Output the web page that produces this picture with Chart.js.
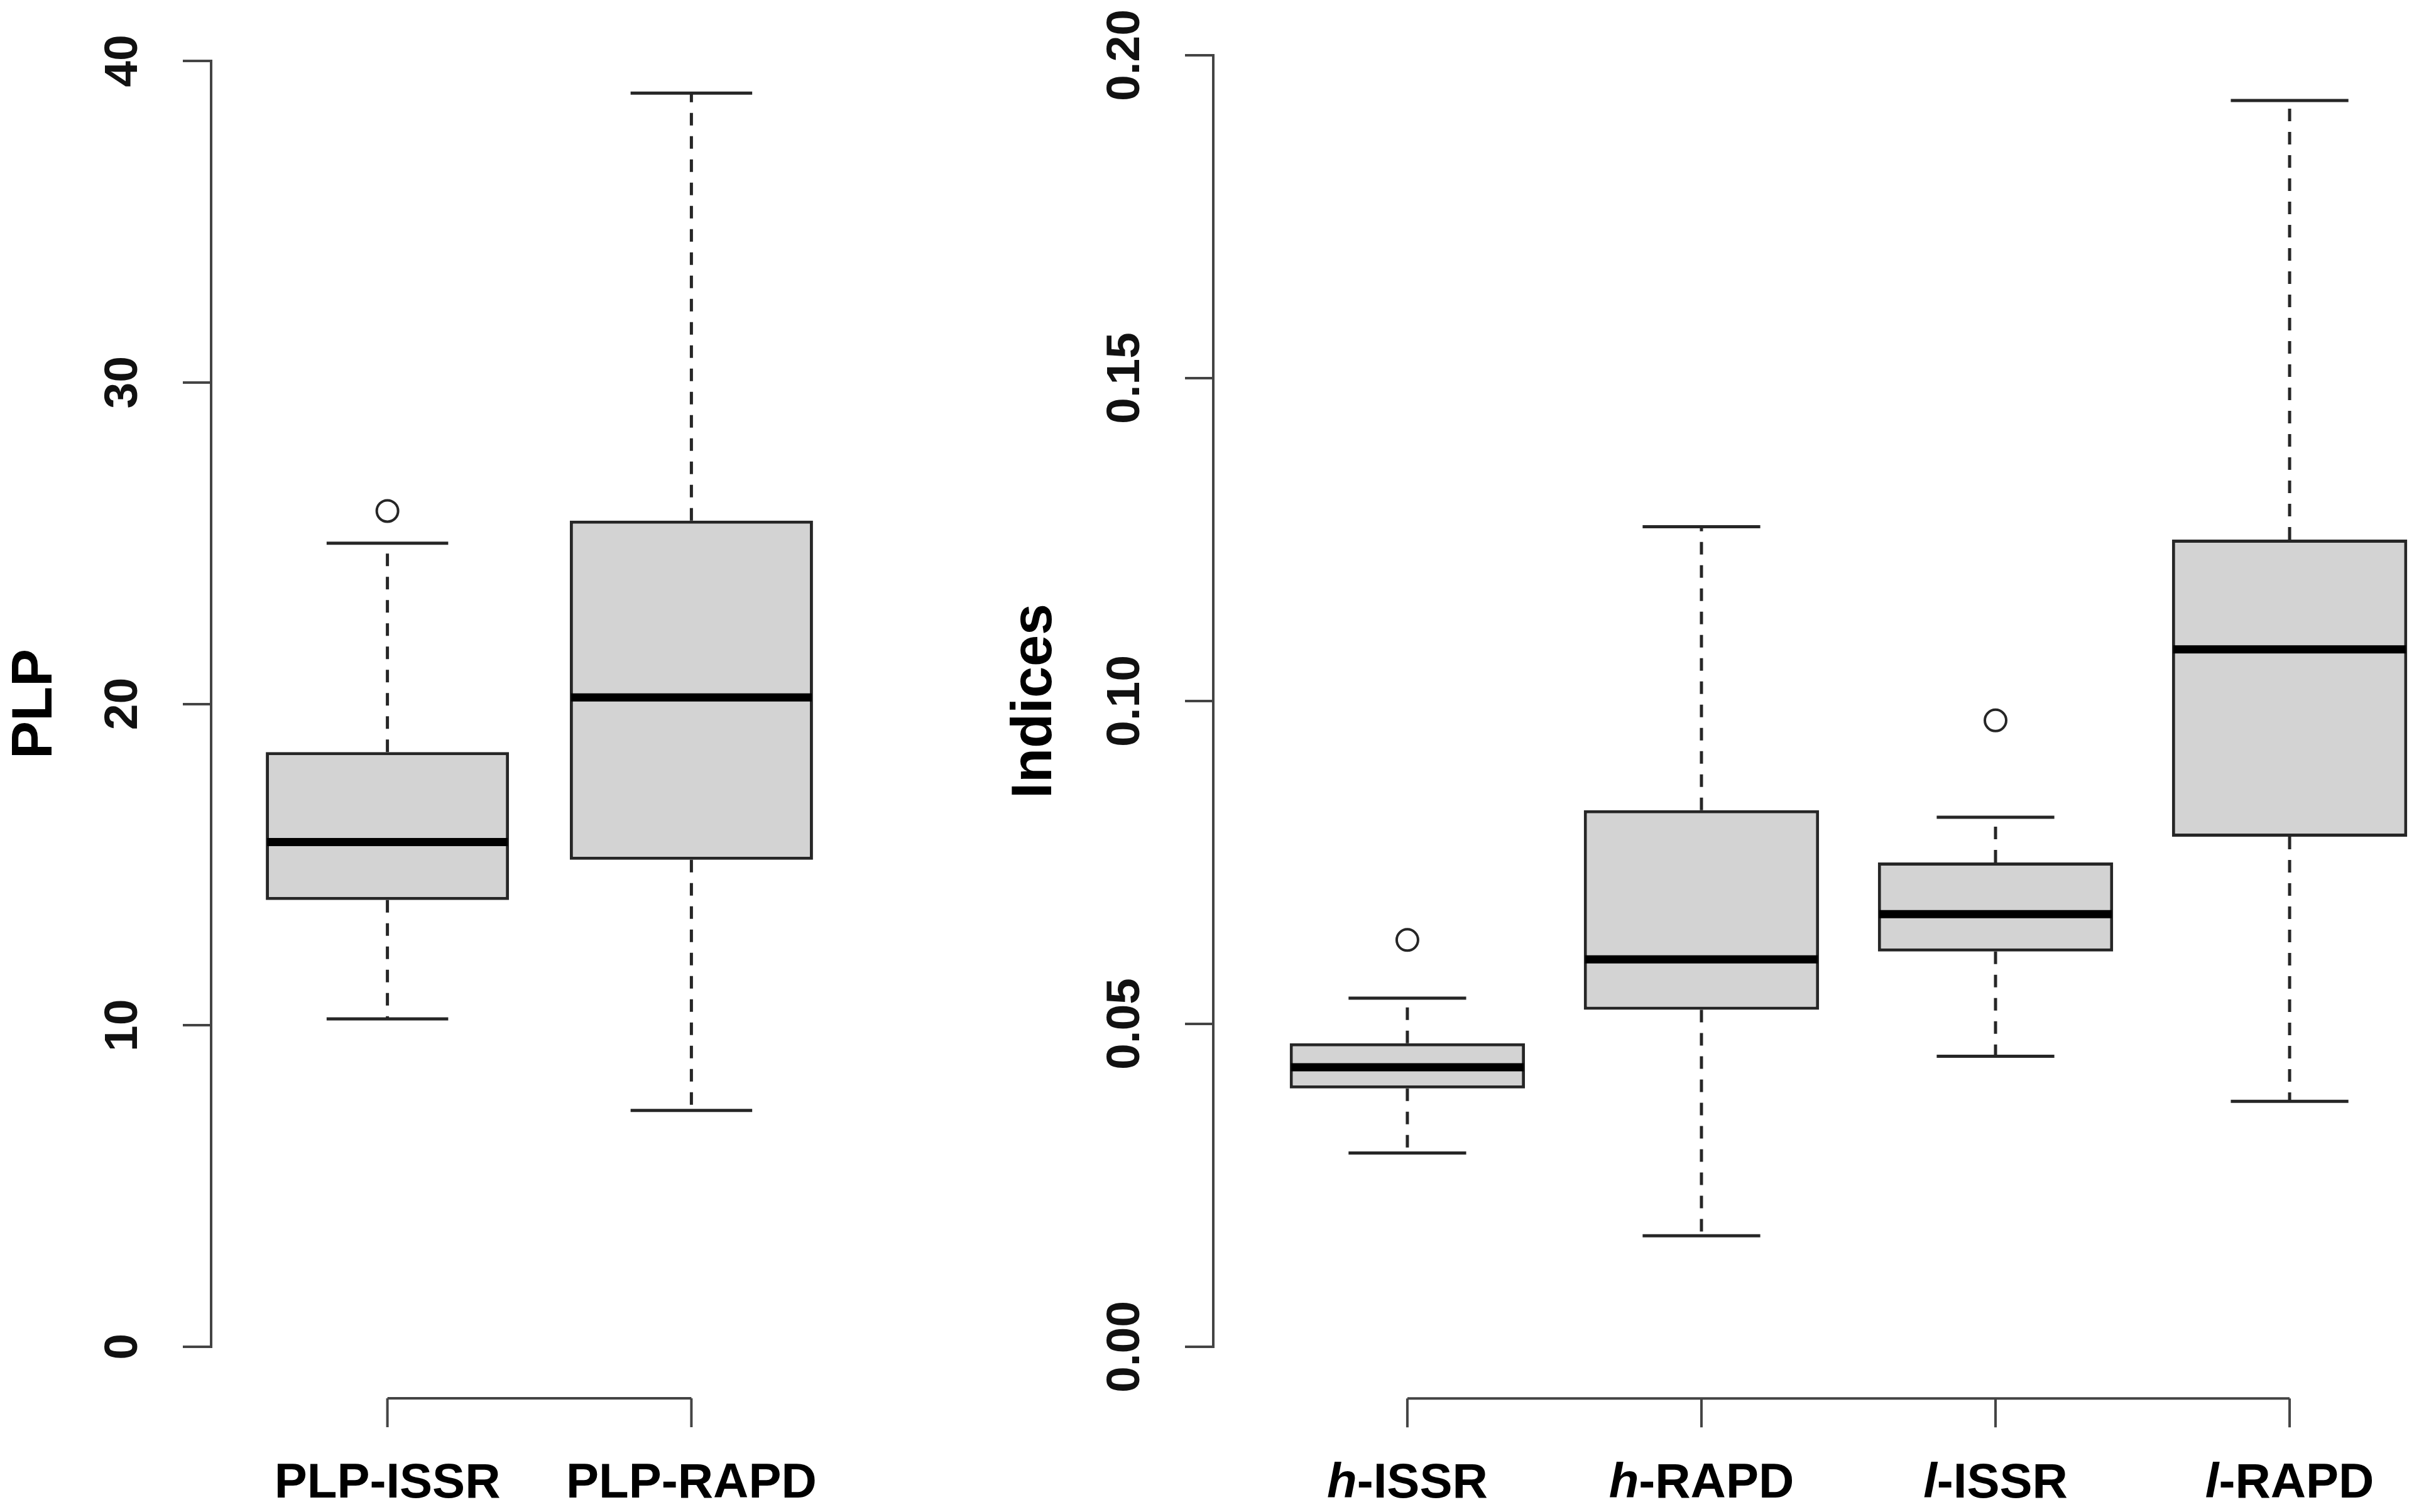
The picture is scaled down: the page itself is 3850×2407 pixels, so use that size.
<!DOCTYPE html>
<html>
<head>
<meta charset="utf-8">
<title>PLP and genetic diversity indices</title>
<script src="https://cdn.jsdelivr.net/npm/chart.js@4.4.1/dist/chart.umd.min.js"></script>
<style>
	html, body { margin: 0; padding: 0; background: #fff; }
	#wrap { position: relative; width: 3850px; height: 2407px; overflow: hidden; }
	canvas { position: absolute; top: 0; }
	#plp-chart { left: 0; }
	#index-chart { left: 1500px; }
</style>
</head>
<body>
<div id="wrap">
	<canvas id="plp-chart" width="1500" height="2407"></canvas>
	<canvas id="index-chart" width="2350" height="2407"></canvas>
</div>
<script>
const plpCategories = ['PLP-ISSR', 'PLP-RAPD'];
const plpMin = [10.2, 7.35];
const plpQ1 = [13.9, 15.15];
const plpMedian = [15.7, 20.2];
const plpQ3 = [18.5, 25.7];
const plpMax = [25, 39];
const plpOutliers = [[26], []];
const plpTicks = [0, 10, 20, 30, 40];

const indexCategories = ['h-ISSR', 'h-RAPD', 'l-ISSR', 'l-RAPD'];
const indexMin = [0.030, 0.0172, 0.045, 0.038];
const indexQ1 = [0.040, 0.0522, 0.0612, 0.079];
const indexMedian = [0.0433, 0.060, 0.067, 0.108];
const indexQ3 = [0.047, 0.0831, 0.075, 0.125];
const indexMax = [0.054, 0.127, 0.082, 0.193];
const indexOutliers = [[0.063], [], [0.097], []];
const indexTicks = [0, 0.05, 0.10, 0.15, 0.20];

const FONT = '"Liberation Sans", Arial, Helvetica, sans-serif';
const LINE = '#262626';
const AXIS = '#444444';

// whiskers, staples and median line on top of the floating bars
const boxWhiskers = {
	id: 'boxWhiskers',
	afterDatasetsDraw(chart, args, opts) {
		const ctx = chart.ctx;
		const yScale = chart.scales.y;
		const bars = chart.getDatasetMeta(0).data;

		const seg = (x1, y1, x2, y2) => {
			ctx.beginPath();
			ctx.moveTo(x1, y1);
			ctx.lineTo(x2, y2);
			ctx.stroke();
		};

		ctx.save();
		ctx.lineCap = 'butt';
		bars.forEach((bar, i) => {
			const { x, width } = bar.getProps(['x', 'width'], true);
			const pMin = yScale.getPixelForValue(opts.min[i]);
			const pQ1 = yScale.getPixelForValue(opts.q1[i]);
			const pMed = yScale.getPixelForValue(opts.median[i]);
			const pQ3 = yScale.getPixelForValue(opts.q3[i]);
			const pMax = yScale.getPixelForValue(opts.max[i]);

			ctx.strokeStyle = LINE;
			ctx.lineWidth = 5;
			ctx.setLineDash([20, 17]);
			seg(x, pQ3, x, pMax);
			seg(x, pQ1, x, pMin);
			ctx.setLineDash([]);
			seg(x - width / 4, pMax, x + width / 4, pMax);
			seg(x - width / 4, pMin, x + width / 4, pMin);

			ctx.strokeStyle = '#000';
			ctx.lineWidth = 13;
			seg(x - width / 2 + 2, pMed, x + width / 2 - 2, pMed);
		});
		ctx.restore();
	}
};

// R style bracket axis under the boxes
const bracketAxis = {
	id: 'bracketAxis',
	afterDraw(chart, args, opts) {
		const { ctx, chartArea, scales: { x } } = chart;
		const y0 = chartArea.bottom + (chartArea.bottom - chartArea.top) * 0.04;
		const xs = x.ticks.map(t => x.getPixelForValue(t.value));

		ctx.save();
		ctx.strokeStyle = AXIS;
		ctx.lineWidth = 4;
		ctx.beginPath();
		ctx.moveTo(xs[0], y0);
		ctx.lineTo(xs[xs.length - 1], y0);
		xs.forEach(px => {
			ctx.moveTo(px, y0);
			ctx.lineTo(px, y0 + 46);
		});
		ctx.stroke();

		const upright = `bold 78px ${FONT}`;
		const slanted = `italic bold 78px ${FONT}`;
		ctx.fillStyle = '#000';
		ctx.textAlign = 'left';
		ctx.textBaseline = 'alphabetic';
		opts.labels.forEach((label, i) => {
			const head = opts.italicHead ? label.slice(0, 1) : '';
			const rest = label.slice(head.length);
			ctx.font = slanted;
			const wHead = head ? ctx.measureText(head).width : 0;
			ctx.font = upright;
			const wRest = ctx.measureText(rest).width;
			const left = xs[i] - (wHead + wRest) / 2;
			if (head) {
				ctx.font = slanted;
				ctx.fillText(head, left, y0 + 158);
			}
			ctx.font = upright;
			ctx.fillText(rest, left + wHead, y0 + 158);
		});
		ctx.restore();
	}
};

function boxChart(canvasId, cfg) {
	const boxes = cfg.categories.map((c, i) => ({ x: i + 1, y: [cfg.q1[i], cfg.q3[i]] }));
	const outliers = cfg.outliers.flatMap((vals, i) => vals.map(v => ({ x: i + 1, y: v })));

	return new Chart(document.getElementById(canvasId), {
		type: 'bar',
		data: {
			datasets: [
				{
					type: 'bar',
					data: boxes,
					backgroundColor: '#d3d3d3',
					borderColor: LINE,
					borderWidth: 5,
					borderSkipped: false,
					barPercentage: 0.8,
					categoryPercentage: 1
				},
				{
					type: 'scatter',
					data: outliers,
					pointStyle: 'circle',
					pointRadius: 17,
					pointBorderWidth: 4,
					pointBorderColor: LINE,
					pointBackgroundColor: '#ffffff'
				}
			]
		},
		plugins: [boxWhiskers, bracketAxis],
		options: {
			responsive: false,
			animation: false,
			devicePixelRatio: 1,
			layout: { padding: cfg.padding, autoPadding: false },
			scales: {
				x: {
					type: 'linear',
					display: false,
					offset: false,
					min: cfg.xMin,
					max: cfg.xMax,
					afterBuildTicks: scale => {
						scale.ticks = cfg.categories.map((c, i) => ({ value: i + 1 }));
					}
				},
				y: {
					type: 'linear',
					position: 'left',
					min: cfg.ticks[0],
					max: cfg.ticks[cfg.ticks.length - 1],
					afterBuildTicks: scale => {
						scale.ticks = cfg.ticks.map(v => ({ value: v }));
					},
					afterFit: scale => {
						scale.width = cfg.axisWidth;
					},
					ticks: {
						autoSkip: false,
						minRotation: 90,
						maxRotation: 90,
						crossAlign: 'center',
						padding: cfg.tickPad,
						color: '#111',
						font: { family: FONT, size: 75, weight: 'bold' },
						callback: value => cfg.tickFormat(value)
					},
					grid: {
						drawOnChartArea: false,
						drawTicks: true,
						tickLength: 45,
						color: AXIS,
						lineWidth: 4
					},
					border: { display: true, color: AXIS, width: 4 },
					title: {
						display: true,
						text: cfg.title,
						color: '#000',
						padding: { top: 3, bottom: 3 },
						font: { family: FONT, size: 90, weight: 'bold' }
					}
				}
			},
			plugins: {
				legend: { display: false },
				tooltip: { enabled: false },
				boxWhiskers: { min: cfg.min, q1: cfg.q1, median: cfg.median, q3: cfg.q3, max: cfg.max },
				bracketAxis: { labels: cfg.categories, italicHead: cfg.italicHead }
			}
		}
	});
}

const plpChart = boxChart('plp-chart', {
	categories: plpCategories,
	min: plpMin, q1: plpQ1, median: plpMedian, q3: plpQ3, max: plpMax,
	outliers: plpOutliers,
	ticks: plpTicks,
	tickFormat: v => String(v),
	title: 'PLP',
	italicHead: false,
	xMin: 0.42, xMax: 2.58,
	padding: { left: 0, top: 88, right: 119, bottom: 263 },
	axisWidth: 336,
	tickPad: 52
});

const indexChart = boxChart('index-chart', {
	categories: indexCategories,
	min: indexMin, q1: indexQ1, median: indexMedian, q3: indexQ3, max: indexMax,
	outliers: indexOutliers,
	ticks: indexTicks,
	tickFormat: v => v.toFixed(2),
	title: 'Indices',
	italicHead: true,
	xMin: 0.34, xMax: 4.44,
	padding: { left: 91, top: 88, right: 0, bottom: 263 },
	axisWidth: 340,
	tickPad: 21
});
</script>
</body>
</html>
